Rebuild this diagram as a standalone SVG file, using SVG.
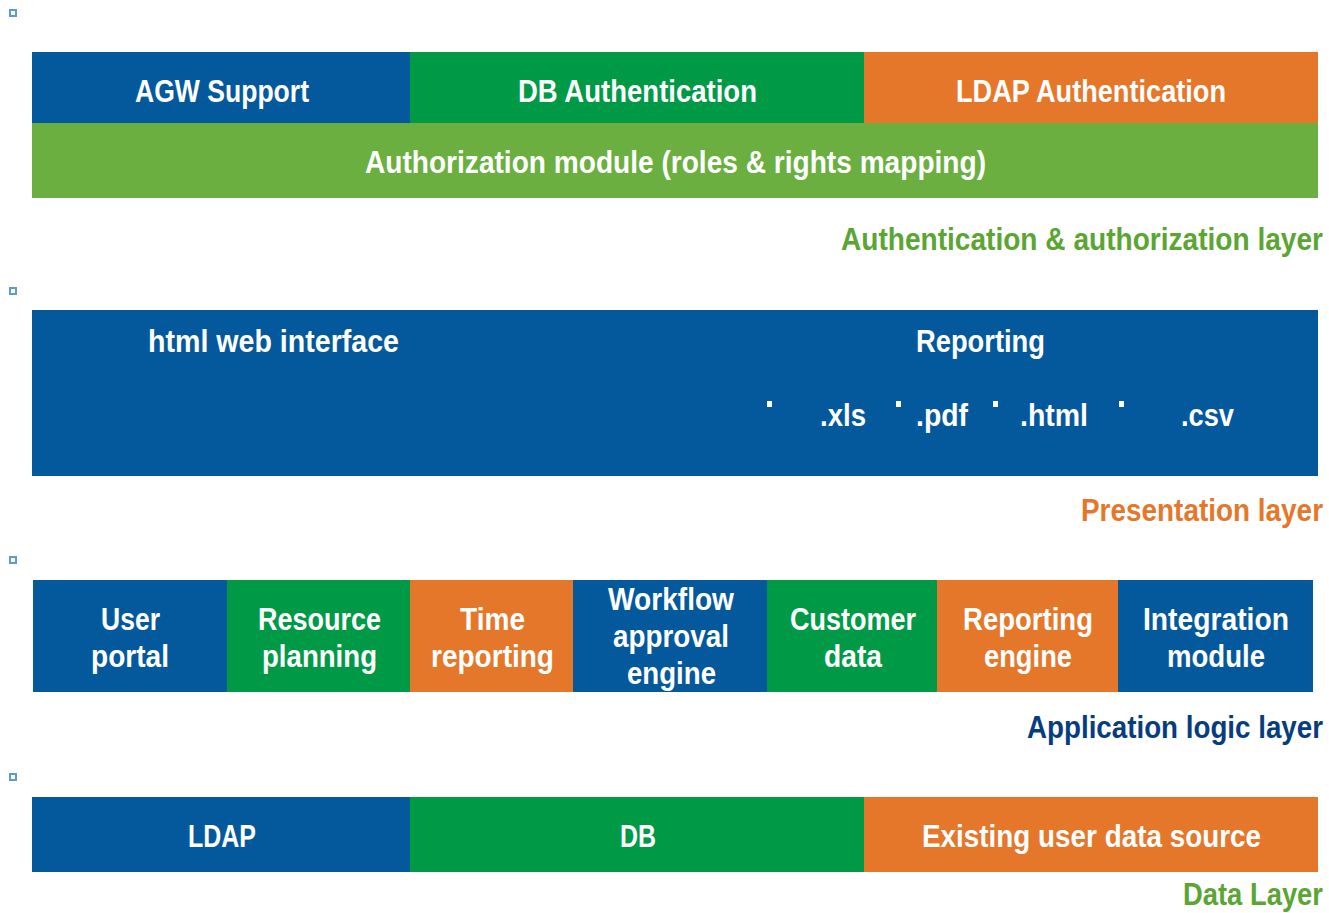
<svg xmlns="http://www.w3.org/2000/svg" width="1329" height="913" viewBox="0 0 1329 913">
<style>
.b{fill:#04599C}.g{fill:#009A47}.o{fill:#E5772B}.lg{fill:#6AAF3F}
text{font-family:"Liberation Sans Narrow","Liberation Sans",Arial,sans-serif;font-weight:bold;font-size:31px}
.w{fill:#fff;text-anchor:middle}
.lbl{text-anchor:end}
.sq{fill:#fff;stroke:#5B9BD5;stroke-width:2}
</style>
<rect width="1329" height="913" fill="#fff"/>
<g id="bullets">
<rect class="sq" x="10" y="10" width="6" height="6"/>
<rect class="sq" x="10" y="288" width="6" height="6"/>
<rect class="sq" x="10" y="557" width="6" height="6"/>
<rect class="sq" x="10" y="774" width="6" height="6"/>
</g>
<g id="auth-layer">
<g id="agw"><rect class="b" x="32" y="52" width="378" height="71"/><text class="w" x="222" y="102" textLength="174" lengthAdjust="spacingAndGlyphs">AGW Support</text></g>
<g id="dbauth"><rect class="g" x="410" y="52" width="454" height="71"/><text class="w" x="637.5" y="102" textLength="239" lengthAdjust="spacingAndGlyphs">DB Authentication</text></g>
<g id="ldapauth"><rect class="o" x="864" y="52" width="454" height="71"/><text class="w" x="1091" y="102" textLength="270" lengthAdjust="spacingAndGlyphs">LDAP Authentication</text></g>
<g id="authz"><rect class="lg" x="32" y="123" width="1286" height="75"/><text class="w" x="675.5" y="173" textLength="621" lengthAdjust="spacingAndGlyphs">Authorization module (roles &amp; rights mapping)</text></g>
<text class="lbl" x="1323" y="250" fill="#5BA534" textLength="482" lengthAdjust="spacingAndGlyphs">Authentication &amp; authorization layer</text>
</g>
<g id="presentation-layer">
<rect class="b" x="32" y="310" width="1286" height="166"/>
<text class="w" x="273.5" y="352" textLength="251" lengthAdjust="spacingAndGlyphs">html web interface</text>
<text class="w" x="980.5" y="352" textLength="129" lengthAdjust="spacingAndGlyphs">Reporting</text>
<rect fill="#fff" x="767" y="401" width="5" height="6"/>
<rect fill="#fff" x="896" y="401" width="5" height="6"/>
<rect fill="#fff" x="993" y="401" width="5" height="6"/>
<rect fill="#fff" x="1119" y="401" width="5" height="6"/>
<text class="w" x="843" y="426" textLength="46" lengthAdjust="spacingAndGlyphs">.xls</text>
<text class="w" x="942" y="426" textLength="52" lengthAdjust="spacingAndGlyphs">.pdf</text>
<text class="w" x="1054" y="426" textLength="68" lengthAdjust="spacingAndGlyphs">.html</text>
<text class="w" x="1207.5" y="426" textLength="53" lengthAdjust="spacingAndGlyphs">.csv</text>
<text class="lbl" x="1323" y="521" fill="#E5772B" textLength="242" lengthAdjust="spacingAndGlyphs">Presentation layer</text>
</g>
<g id="application-layer">
<g id="userportal"><rect class="b" x="33" y="580" width="194" height="112"/><text class="w" x="130.5" y="630" textLength="59" lengthAdjust="spacingAndGlyphs">User</text><text class="w" x="130" y="667" textLength="78" lengthAdjust="spacingAndGlyphs">portal</text></g>
<g id="resplan"><rect class="g" x="227" y="580" width="183" height="112"/><text class="w" x="319.5" y="630" textLength="123" lengthAdjust="spacingAndGlyphs">Resource</text><text class="w" x="319.5" y="667" textLength="115" lengthAdjust="spacingAndGlyphs">planning</text></g>
<g id="timerep"><rect class="o" x="410" y="580" width="163" height="112"/><text class="w" x="492.5" y="630" textLength="65" lengthAdjust="spacingAndGlyphs">Time</text><text class="w" x="492.5" y="667" textLength="123" lengthAdjust="spacingAndGlyphs">reporting</text></g>
<g id="workflow"><rect class="b" x="573" y="580" width="194" height="112"/><text class="w" x="671" y="610" textLength="126" lengthAdjust="spacingAndGlyphs">Workflow</text><text class="w" x="671" y="647" textLength="116" lengthAdjust="spacingAndGlyphs">approval</text><text class="w" x="671.5" y="684" textLength="89" lengthAdjust="spacingAndGlyphs">engine</text></g>
<g id="custdata"><rect class="g" x="767" y="580" width="170" height="112"/><text class="w" x="853" y="630" textLength="126" lengthAdjust="spacingAndGlyphs">Customer</text><text class="w" x="853" y="667" textLength="58" lengthAdjust="spacingAndGlyphs">data</text></g>
<g id="repengine"><rect class="o" x="937" y="580" width="181" height="112"/><text class="w" x="1028" y="630" textLength="130" lengthAdjust="spacingAndGlyphs">Reporting</text><text class="w" x="1028" y="667" textLength="88" lengthAdjust="spacingAndGlyphs">engine</text></g>
<g id="integration"><rect class="b" x="1118" y="580" width="195" height="112"/><text class="w" x="1216" y="630" textLength="146" lengthAdjust="spacingAndGlyphs">Integration</text><text class="w" x="1216" y="667" textLength="98" lengthAdjust="spacingAndGlyphs">module</text></g>
<text class="lbl" x="1323" y="738" fill="#063D7F" textLength="296" lengthAdjust="spacingAndGlyphs">Application logic layer</text>
</g>
<g id="data-layer">
<g id="ldap"><rect class="b" x="32" y="797" width="378" height="75"/><text class="w" x="222" y="847" textLength="68" lengthAdjust="spacingAndGlyphs">LDAP</text></g>
<g id="db"><rect class="g" x="410" y="797" width="454" height="75"/><text class="w" x="638" y="847" textLength="36" lengthAdjust="spacingAndGlyphs">DB</text></g>
<g id="existing"><rect class="o" x="864" y="797" width="454" height="75"/><text class="w" x="1091.5" y="847" textLength="339" lengthAdjust="spacingAndGlyphs">Existing user data source</text></g>
<text class="lbl" x="1323" y="905" fill="#5BA534" textLength="140" lengthAdjust="spacingAndGlyphs">Data Layer</text>
</g>
<g id="connectors"/>
</svg>
